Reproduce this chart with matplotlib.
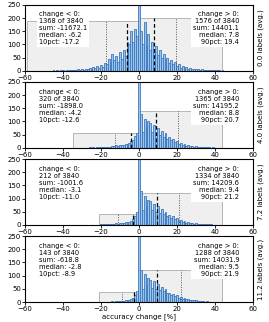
import numpy as np
import matplotlib
matplotlib.use("Agg")
import matplotlib.pyplot as plt

# label budgets (avg. labels per class)
budgets = ["0.0", "4.0", "7.2", "11.2"]

# histogram counts, 1%-wide bins; neg lists run from leftmost bin up to -1, pos lists from +1
neg_counts = [
    [1, 0, 2, 0, 1, 3, 0, 2, 1, 3, 2, 4, 3, 5, 2, 6, 4, 8, 5, 10, 7, 14, 9, 18, 12,
     20, 15, 30, 25, 45, 30, 65, 40, 55, 35, 70, 45, 80, 55, 110, 100, 150, 110, 160, 130],
    [1, 0, 0, 1, 0, 1, 0, 1, 1, 2, 1, 2, 1, 3, 2, 3, 4, 3, 5, 4, 5, 7, 6, 9, 8,
     10, 12, 9, 15, 14, 18, 25, 30, 45, 55],
    [1, 2, 2, 3, 2, 4, 3, 5, 4, 6, 5, 6, 8, 7, 10, 9, 12, 15, 22, 35, 50],
    [1, 1, 1, 2, 1, 2, 2, 3, 2, 3, 3, 4, 5, 4, 6, 7, 8, 10, 16, 25, 40],
]
zero_counts = [896, 2155, 2294, 2409]
pos_counts = [
    [150, 100, 185, 95, 140, 80, 110, 70, 95, 60, 80, 50, 65, 40, 50, 30, 40, 25, 35, 18,
     25, 12, 18, 10, 14, 8, 10, 6, 8, 5, 6, 4, 5, 3, 4, 2, 3, 2, 1, 2, 1, 1, 0, 1, 0],
    [130, 60, 110, 80, 100, 95, 60, 85, 55, 75, 50, 65, 40, 55, 35, 40, 28, 35, 22, 25,
     15, 20, 10, 14, 8, 10, 6, 8, 5, 6, 4, 5, 3, 4, 2, 3, 2, 1, 2, 1, 1, 0, 1, 0, 0],
    [130, 55, 110, 70, 95, 90, 55, 80, 50, 70, 45, 60, 40, 50, 35, 38, 28, 32, 22, 25,
     16, 20, 12, 14, 9, 10, 7, 8, 5, 6, 5, 4, 3, 4, 2, 3, 2, 2, 1, 1, 1, 1, 0, 0, 0],
    [120, 50, 105, 65, 90, 85, 55, 80, 50, 70, 45, 58, 40, 50, 35, 36, 28, 32, 22, 25,
     17, 20, 12, 14, 10, 10, 8, 8, 6, 6, 5, 4, 4, 3, 2, 3, 2, 2, 1, 1, 1, 1, 0, 0, 0],
]

# summary stats printed in the boxes
n_total = 3840
n_neg = [1368, 320, 212, 143]
sum_neg = [-11672.1, -1898.0, -1001.6, -618.8]
med_neg = [-6.2, -4.2, -3.1, -2.8]
p10_neg = [-17.2, -12.6, -11.0, -8.9]
n_pos = [1576, 1365, 1334, 1288]
sum_pos = [14401.1, 14195.2, 14209.6, 14031.9]
med_pos = [7.8, 8.8, 9.4, 9.5]
p90_pos = [19.4, 20.7, 21.2, 21.9]

# grey range boxes (min .. 0 and 0 .. max) and their heights
range_min = [-59, -34.6, -21, -21]
range_max = [43.5, 43.5, 43.5, 43.5]
box_h_neg = [187, 55, 41, 37]
box_h_pos = [200, 138, 122, 120]

fs = 5
tfs = 4.8
fig, axes = plt.subplots(4, 1, figsize=(2.69, 3.22), dpi=100)
fig.subplots_adjust(left=0.093, right=0.94, top=0.985, bottom=0.062, hspace=0.17)

for i, ax in enumerate(axes):
    # grey boxes showing the value range of each side
    ax.bar(range_min[i], box_h_neg[i], width=-range_min[i], align="edge",
           color="#efefef", edgecolor="#b5b5b5", linewidth=0.7, zorder=1)
    ax.bar(0, box_h_pos[i], width=range_max[i], align="edge",
           color="#efefef", edgecolor="#b5b5b5", linewidth=0.7, zorder=1)

    # histogram
    neg_x = np.arange(-len(neg_counts[i]), 0)
    pos_x = np.arange(1, len(pos_counts[i]) + 1)
    xs = np.concatenate([neg_x, [0], pos_x])
    hs = np.concatenate([neg_counts[i], [zero_counts[i]], pos_counts[i]])
    ax.bar(xs, hs, width=1.0, color="#9cc4ea", edgecolor="#3a78bd",
           linewidth=0.6, zorder=2)

    # median / percentile markers
    ax.vlines([med_neg[i]], 0, box_h_neg[i], colors="k", linestyles=(0, (3, 2)), lw=0.9, zorder=3)
    ax.vlines([med_pos[i]], 0, box_h_pos[i], colors="k", linestyles=(0, (3, 2)), lw=0.9, zorder=3)
    ax.vlines([p10_neg[i]], 0, box_h_neg[i], colors="#555555", linestyles=(0, (1, 1.5)), lw=0.7, zorder=3)
    ax.vlines([p90_pos[i]], 0, box_h_pos[i], colors="#555555", linestyles=(0, (1, 1.5)), lw=0.7, zorder=3)

    left_txt = (f"change < 0:\n{n_neg[i]} of {n_total}\nsum: {sum_neg[i]:.1f}\n"
                f"median: {med_neg[i]:.1f}\n10pct: {p10_neg[i]:.1f}")
    right_txt = (f"change > 0:\n{n_pos[i]} of {n_total}\nsum: {sum_pos[i]:.1f}\n"
                 f"median: {med_pos[i]:.1f}\n90pct: {p90_pos[i]:.1f}")
    box = dict(facecolor="white", edgecolor="none", pad=1.5)
    ax.text(0.06, 0.9, left_txt, transform=ax.transAxes, ha="left", va="top",
            fontsize=tfs, bbox=box, zorder=5)
    ax.text(0.94, 0.9, right_txt, transform=ax.transAxes, ha="right", va="top",
            fontsize=tfs, bbox=box, zorder=5)

    ax.set_xlim(-60, 60)
    ax.set_ylim(0, 250)
    ax.set_xticks(np.arange(-60, 61, 20))
    ax.set_yticks(np.arange(0, 251, 50))
    ax.tick_params(labelsize=fs, length=2, width=0.6, pad=1)
    for s in ax.spines.values():
        s.set_linewidth(0.8)
    ax.yaxis.set_label_position("right")
    ax.set_ylabel(f"{budgets[i]} labels (avg.)", fontsize=fs, labelpad=3)

axes[-1].set_xlabel("accuracy change [%]", fontsize=fs, labelpad=1)

fig.savefig("out.png", dpi=100)
